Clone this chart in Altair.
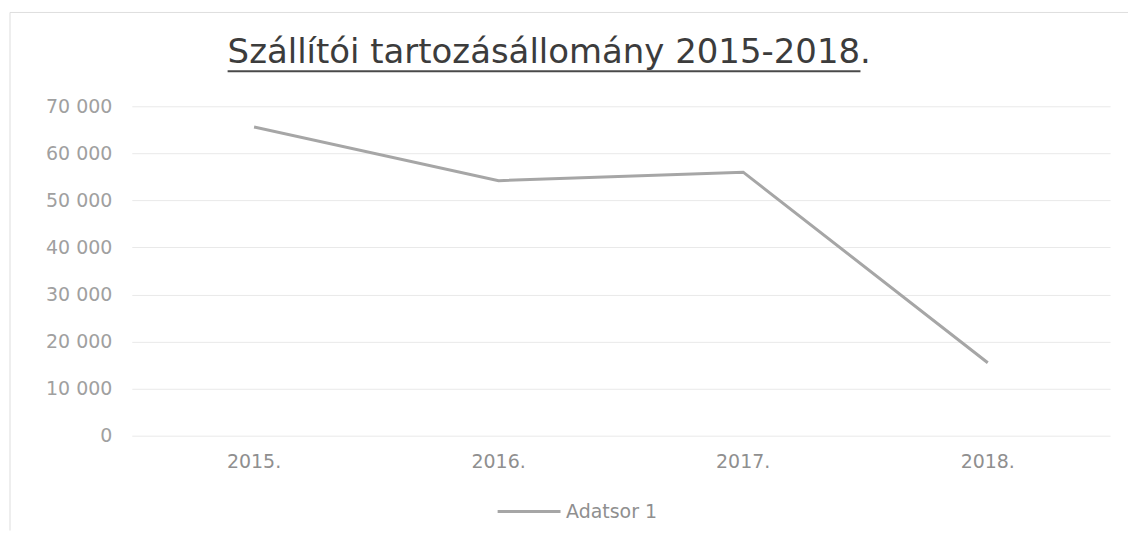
import altair as alt
import pandas as pd

title_text = ["Szállítói tartozásállomány 2015-2018."]
years = ["2015.", "2016.", "2017.", "2018."]
values = [65600, 54200, 56000, 15500]
series = ["Adatsor 1"] * 4
y_ticks = [0, 10000, 20000, 30000, 40000, 50000, 60000, 70000]

df = pd.DataFrame({"year": years, "value": values, "series": series})
tdf = pd.DataFrame({"t": title_text})

W, H = 980, 330
FONT = "DejaVu Sans"
LABEL = "#8f8f8f"

line = alt.Chart(df).mark_line(strokeWidth=3, clip=False).encode(
    x=alt.X("year:N", sort=years, title=None,
            scale=alt.Scale(type="band", paddingInner=0, paddingOuter=0, align=0.5),
            axis=alt.Axis(labelAngle=0, labelFontSize=19, labelColor=LABEL,
                          labelFont=FONT, labelPadding=17, ticks=False,
                          domain=False, grid=False, bandPosition=0.5)),
    y=alt.Y("value:Q", title=None,
            scale=alt.Scale(domain=[0, 70000], nice=False),
            axis=alt.Axis(values=y_ticks, labelFontSize=19, labelColor="#a0a0a0",
                          labelFont=FONT, labelPadding=20, ticks=False,
                          domain=False, grid=True, gridColor="#e9e9e9",
                          labelExpr="replace(format(datum.value, ',d'), ',', ' ')")),
    color=alt.Color("series:N", title=None,
                    scale=alt.Scale(range=["#a6a6a6"]),
                    legend=alt.Legend(orient="none", legendX=365, legendY=373,
                                      symbolType="stroke", symbolSize=3969,
                                      symbolStrokeWidth=3, labelFontSize=19,
                                      labelColor=LABEL, labelFont=FONT,
                                      labelOffset=4, padding=0)),
)

title = alt.Chart(tdf).mark_text(
    align="left", baseline="alphabetic", font=FONT, fontSize=34,
    color="#3c3c3c", clip=False
).encode(text="t:N", x=alt.value(96), y=alt.value(-43))

underline = alt.Chart(tdf).mark_rule(color="#4a4a4a", strokeWidth=2, clip=False).encode(
    x=alt.value(96), x2=alt.value(730), y=alt.value(-35)
)

frame_top = alt.Chart(tdf).mark_rule(color="#dedede", strokeWidth=1, clip=False).encode(
    x=alt.value(-122), x2=alt.value(998), y=alt.value(-94)
)
frame_left = alt.Chart(tdf).mark_rule(color="#dedede", strokeWidth=1, clip=False).encode(
    x=alt.value(-122), y=alt.value(-94), y2=alt.value(425)
)

chart = alt.layer(line, title, underline, frame_top, frame_left).properties(
    width=W, height=H,
    autosize=alt.AutoSizeParams(type="none"),
    padding={"left": 124, "top": 98, "right": 20, "bottom": 95},
).configure_view(stroke=None)

chart.save("out.html", embed_options={"renderer": "svg", "actions": False})
